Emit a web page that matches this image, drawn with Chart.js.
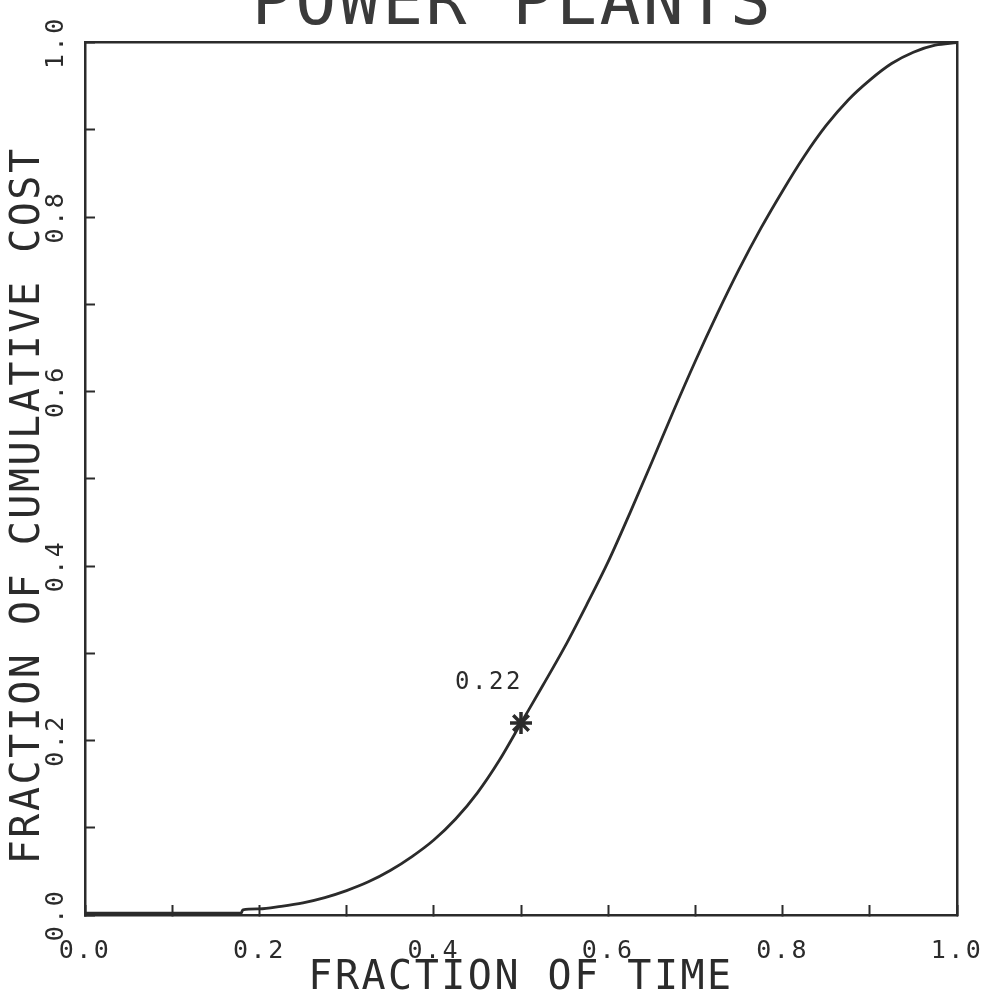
<!DOCTYPE html>
<html>
<head>
<meta charset="utf-8">
<title>Power Plants</title>
<script src="https://cdn.jsdelivr.net/npm/chart.js@4.4.1/dist/chart.umd.min.js"></script>
<style>
  html, body { margin: 0; padding: 0; background: #fff; }
</style>
</head>
<body>
<canvas id="costChart" width="995" height="1002"></canvas>
<script>
// fraction of time (x) vs fraction of cumulative cost (y)
const timeFraction = [0.0, 0.10, 0.179, 0.181, 0.20, 0.225, 0.25, 0.275, 0.30, 0.325, 0.35, 0.375,
  0.40, 0.425, 0.45, 0.475, 0.50, 0.525, 0.55, 0.575, 0.60, 0.625, 0.65, 0.675, 0.70, 0.725,
  0.75, 0.775, 0.80, 0.825, 0.85, 0.875, 0.90, 0.925, 0.95, 0.975, 1.0];
const costFraction = [0.002, 0.002, 0.002, 0.006, 0.007, 0.010, 0.014, 0.020, 0.028, 0.038, 0.051, 0.067,
  0.086, 0.110, 0.140, 0.177, 0.220, 0.263, 0.307, 0.355, 0.405, 0.461, 0.519, 0.578, 0.635, 0.689,
  0.740, 0.787, 0.830, 0.870, 0.905, 0.934, 0.957, 0.976, 0.989, 0.997, 1.0];

// the marked point and its annotation
const markerTime = [0.5];
const markerCost = [0.22];
const markerLabel = '0.22';

const chartTitle = 'POWER PLANTS';
const xAxisTitle = 'FRACTION OF TIME';
// trailing blanks push the lettering down the axis a little, like the plotter did
const yAxisTitle = 'FRACTION OF CUMULATIVE COST  ';

const ink = '#2b2b2b';
const plotterFont = "'DejaVu Sans Mono', monospace";

// plotter lettering is spaced out a bit more than the mono font
const plotterSpacing = {
  id: 'plotterSpacing',
  beforeLayout(chart) { chart.ctx.letterSpacing = '2.5px'; },
  beforeDraw(chart) { chart.ctx.letterSpacing = '2.5px'; }
};

const markerNote = {
  id: 'markerNote',
  afterDatasetsDraw(chart) {
    const { ctx, scales } = chart;
    const px = scales.x.getPixelForValue(markerTime[0]);
    const py = scales.y.getPixelForValue(markerCost[0]);
    ctx.save();
    ctx.font = '24px ' + plotterFont;
    ctx.fillStyle = ink;
    ctx.textAlign = 'center';
    ctx.textBaseline = 'middle';
    ctx.fillText(markerLabel, px - 32, py - 40);
    ctx.restore();
  }
};

const evenTenth = (v) => {
  const n = Math.round(v * 10);
  return n % 2 === 0 ? (n / 10).toFixed(1) : '';
};

const curve = timeFraction.map((t, i) => ({ x: t, y: costFraction[i] }));
const marker = markerTime.map((t, i) => ({ x: t, y: markerCost[i] }));

new Chart(document.getElementById('costChart'), {
  type: 'scatter',
  data: {
    datasets: [
      {
        data: curve,
        showLine: true,
        borderColor: ink,
        borderWidth: 2.8,
        pointRadius: 0,
        cubicInterpolationMode: 'monotone'
      },
      {
        data: marker,
        pointStyle: 'star',
        pointRadius: 11,
        borderColor: ink,
        borderWidth: 3.5,
        backgroundColor: ink
      }
    ]
  },
  options: {
    responsive: false,
    animation: false,
    // left padding only nudges the title; the frame edges come from the axis widths
    layout: { padding: { left: 30, right: 0, top: 0, bottom: 0 } },
    plugins: {
      legend: { display: false },
      tooltip: { enabled: false },
      title: {
        display: true,
        text: chartTitle,
        color: '#3a3a3a',
        font: { family: plotterFont, size: 68, weight: 'normal' },
        padding: { top: -34, bottom: -5 }
      }
    },
    scales: {
      x: {
        type: 'linear',
        position: 'bottom',
        min: 0,
        max: 1,
        afterFit: (s) => {
          s.height = 87;
          // labels may hang past the frame; keep the frame where the plotter put it
          s.paddingLeft = 0;
          s.paddingRight = 0;
        },
        ticks: {
          stepSize: 0.1,
          autoSkip: false,
          maxRotation: 0,
          padding: 31,
          color: ink,
          font: { family: plotterFont, size: 25 },
          callback: evenTenth
        },
        grid: { drawOnChartArea: false, tickLength: -10, tickWidth: 2, color: ink },
        border: { display: true, color: ink, width: 2.5 },
        title: {
          display: true,
          text: xAxisTitle,
          color: ink,
          font: { family: plotterFont, size: 40 },
          padding: { top: 0, bottom: -1 }
        }
      },
      y: {
        type: 'linear',
        position: 'left',
        min: 0,
        max: 1,
        afterFit: (s) => { s.width = 55; },
        ticks: {
          stepSize: 0.1,
          autoSkip: false,
          minRotation: 90,
          maxRotation: 90,
          crossAlign: 'center',
          padding: 12,
          color: ink,
          font: { family: plotterFont, size: 25 },
          callback: evenTenth
        },
        grid: { drawOnChartArea: false, tickLength: -10, tickWidth: 2, color: ink },
        border: { display: true, color: ink, width: 2.5 },
        title: {
          display: true,
          text: yAxisTitle,
          color: ink,
          font: { family: plotterFont, size: 40 },
          padding: { top: -25, bottom: 0 }
        }
      },
      xTop: {
        type: 'linear',
        position: 'top',
        min: 0,
        max: 1,
        afterFit: (s) => { s.height = 0; },
        ticks: { display: false },
        grid: { display: false, drawTicks: false },
        border: { display: true, color: ink, width: 2.5 }
      },
      yRight: {
        type: 'linear',
        position: 'right',
        min: 0,
        max: 1,
        afterFit: (s) => { s.width = 38; },
        ticks: { display: false },
        grid: { display: false, drawTicks: false },
        border: { display: true, color: ink, width: 2.5 }
      }
    }
  },
  plugins: [plotterSpacing, markerNote]
});
</script>
</body>
</html>
